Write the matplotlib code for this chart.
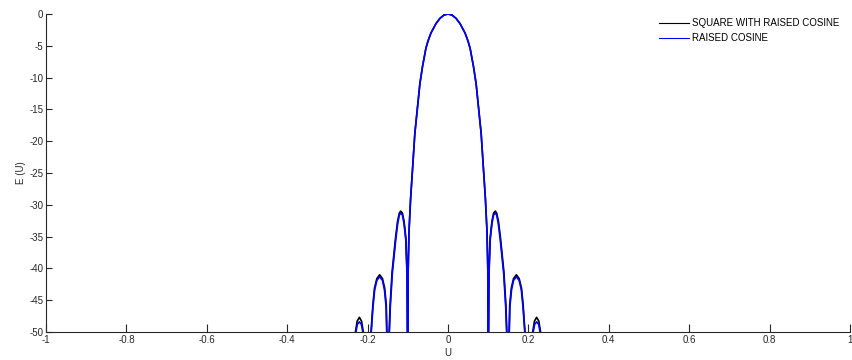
import matplotlib
matplotlib.use("Agg")
import matplotlib.pyplot as plt

plt.rcParams['font.family'] = ['Liberation Sans', 'DejaVu Sans']

# ---- data (U, E in dB); values below -50 are clipped ----
u_raised = [-1.0, -0.28, -0.236, -0.2305, -0.2255, -0.2205, -0.2155, -0.2105, -0.206,
            -0.196, -0.1915, -0.1865, -0.1825, -0.177, -0.170, -0.163, -0.158, -0.154, -0.1525, -0.151,
            -0.150, -0.147, -0.1435, -0.1385, -0.130, -0.125, -0.121, -0.1177, -0.1135, -0.1095, -0.105, -0.102,
            -0.100, -0.099, -0.097, -0.093, -0.0875, -0.0825, -0.074, -0.070, -0.0635, -0.055, -0.050,
            -0.0425, -0.030, -0.020, -0.010, 0.0, 0.010, 0.020, 0.030, 0.0425,
            0.050, 0.055, 0.0635, 0.070, 0.074, 0.0825, 0.0875, 0.093, 0.097, 0.099, 0.100,
            0.102, 0.105, 0.1095, 0.1135, 0.1177, 0.121, 0.125, 0.130, 0.1385, 0.1435, 0.147, 0.150,
            0.151, 0.1525, 0.154, 0.158, 0.163, 0.170, 0.177, 0.1825, 0.1865, 0.1915, 0.196,
            0.206, 0.2105, 0.2155, 0.2205, 0.2255, 0.2305, 0.236, 0.28, 1.0]
e_raised = [-80, -80, -60, -50.5, -48.8, -48.4, -48.8, -50.5, -60,
            -60, -50.5, -46.0, -43.4, -41.9, -41.3, -41.9, -43.4, -46.0, -50.0, -60,
            -60, -52.0, -46.0, -40.8, -35.5, -32.9, -31.6, -31.3, -31.6, -32.9, -35.5, -41.0,
            -60, -40.0, -34.2, -29.0, -23.7, -18.8, -13.5, -11.0, -8.3, -5.4, -4.3,
            -3.0, -1.52, -0.68, -0.17, 0.0, -0.17, -0.68, -1.52, -3.0,
            -4.3, -5.4, -8.3, -11.0, -13.5, -18.8, -23.7, -29.0, -34.2, -40.0, -60,
            -41.0, -35.5, -32.9, -31.6, -31.3, -31.6, -32.9, -35.5, -40.8, -46.0, -52.0, -60,
            -60, -50.0, -46.0, -43.4, -41.9, -41.3, -41.9, -43.4, -46.0, -50.5, -60,
            -60, -50.5, -48.8, -48.4, -48.8, -50.5, -60, -80, -80]

u_square = [-1.0, -0.28, -0.237, -0.2315, -0.2260, -0.2205, -0.2150, -0.2095, -0.205,
            -0.197, -0.1920, -0.1870, -0.1828, -0.177, -0.170, -0.163, -0.1575, -0.1535, -0.1520, -0.151,
            -0.150, -0.1475, -0.1440, -0.1390, -0.1305, -0.1255, -0.121, -0.1177, -0.1135, -0.1093, -0.1048, -0.1018,
            -0.100, -0.099, -0.097, -0.093, -0.0875, -0.0825, -0.074, -0.070, -0.0635, -0.055, -0.050,
            -0.0425, -0.030, -0.020, -0.010, 0.0, 0.010, 0.020, 0.030, 0.0425,
            0.050, 0.055, 0.0635, 0.070, 0.074, 0.0825, 0.0875, 0.093, 0.097, 0.099, 0.100,
            0.1018, 0.1048, 0.1093, 0.1135, 0.1177, 0.121, 0.1255, 0.1305, 0.1390, 0.1440, 0.1475, 0.150,
            0.151, 0.1520, 0.1535, 0.1575, 0.163, 0.170, 0.177, 0.1828, 0.1870, 0.1920, 0.197,
            0.205, 0.2095, 0.2150, 0.2205, 0.2260, 0.2315, 0.237, 0.28, 1.0]
e_square = [-80, -80, -60, -50.5, -48.3, -47.7, -48.3, -50.5, -60,
            -60, -50.5, -45.8, -43.1, -41.6, -41.0, -41.6, -43.1, -45.8, -50.0, -60,
            -60, -52.0, -45.8, -40.5, -35.2, -32.6, -31.3, -31.0, -31.3, -32.6, -35.2, -40.8,
            -60, -40.0, -34.2, -29.0, -23.7, -18.8, -13.5, -11.0, -8.3, -5.4, -4.3,
            -3.0, -1.52, -0.68, -0.17, 0.0, -0.17, -0.68, -1.52, -3.0,
            -4.3, -5.4, -8.3, -11.0, -13.5, -18.8, -23.7, -29.0, -34.2, -40.0, -60,
            -40.8, -35.2, -32.6, -31.3, -31.0, -31.3, -32.6, -35.2, -40.5, -45.8, -52.0, -60,
            -60, -50.0, -45.8, -43.1, -41.6, -41.0, -41.6, -43.1, -45.8, -50.5, -60,
            -60, -50.5, -48.3, -47.7, -48.3, -50.5, -60, -80, -80]

x_ticks = [-1, -0.8, -0.6, -0.4, -0.2, 0, 0.2, 0.4, 0.6, 0.8, 1]
x_tick_labels = ["-1", "-0.8", "-0.6", "-0.4", "-0.2", "0", "0.2", "0.4", "0.6", "0.8", "1"]
y_ticks = [0, -5, -10, -15, -20, -25, -30, -35, -40, -45, -50]
y_tick_labels = ["0", "-5", "-10", "-15", "-20", "-25", "-30", "-35", "-40", "-45", "-50"]
series_names = ["SQUARE WITH RAISED COSINE", "RAISED COSINE"]

fig = plt.figure(figsize=(8.52, 3.6), dpi=100)
ax = fig.add_axes([46/852, 1 - 332/360, 804/852, 318/360])

ax.plot(u_square, e_square, color='black', lw=1.2, label=series_names[0])
ax.plot(u_raised, e_raised, color='#0000ff', lw=1.2, label=series_names[1])

ax.set_xlim(-1, 1)
ax.set_ylim(-50, 0)
ax.set_xticks(x_ticks)
ax.set_xticklabels(x_tick_labels)
ax.set_yticks(y_ticks)
ax.set_yticklabels(y_tick_labels)

for s in ['top', 'right']:
    ax.spines[s].set_visible(False)
for s in ['left', 'bottom']:
    ax.spines[s].set_color('#262626')
    ax.spines[s].set_linewidth(0.8)

ax.tick_params(axis='x', direction='in', length=6, width=0.8, colors='#262626',
               labelsize=7, pad=2, labelcolor='#262626')
ax.tick_params(axis='y', direction='in', length=4, width=0.8, colors='#262626',
               labelsize=7, pad=2, labelcolor='#262626')

ax.set_xlabel("U", fontsize=7, labelpad=2, color='#262626')
ax.set_ylabel("E (U)", fontsize=7, labelpad=2, color='#262626')

leg = ax.legend(loc='upper left', bbox_to_anchor=(659/852, 1 - 18/360),
                bbox_transform=fig.transFigure, frameon=False, fontsize=7,
                handlelength=3.1, handletextpad=0.3, labelspacing=0.55, borderaxespad=0, borderpad=0)
for h in leg.get_lines():
    h.set_linewidth(0.8)

fig.savefig("out.png", dpi=100)
